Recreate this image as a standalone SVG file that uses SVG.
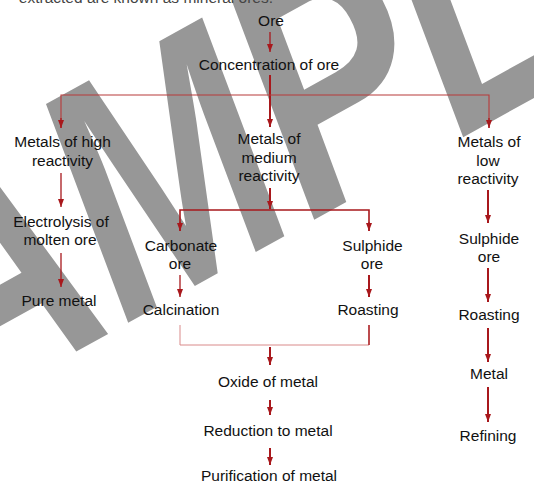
<svg xmlns="http://www.w3.org/2000/svg" width="534" height="483" viewBox="0 0 534 483">
<style>
.t{font-family:"Liberation Sans",Arial,sans-serif;font-size:15.5px;fill:#111;text-anchor:middle}
.wm{font-family:"Liberation Sans",Arial,sans-serif;font-weight:bold;font-style:italic;fill:#979797}
.a{fill:none;stroke:#a8181c;stroke-width:1.3}
.ak{fill:none;stroke:#a8181c;stroke-width:2}
.h{fill:none;stroke:#b83a3a;stroke-width:1.1}
.b{fill:none;stroke:#d98a8a;stroke-width:1}
</style>
<defs>
<marker id="ah" viewBox="0 0 8 6" refX="8" refY="3" markerWidth="8" markerHeight="6" markerUnits="userSpaceOnUse" orient="auto"><path d="M0,0 L8,3 L0,6 z" fill="#a8181c"/></marker>
</defs>
<rect width="534" height="483" fill="#fff"/>
<g id="watermark"><text class="wm" x="0" y="0" font-size="336" transform="translate(-186,497) rotate(-29) scale(0.76,1)">SAMPLE</text></g>
<text class="t" x="273" y="3" style="text-anchor:end;fill:#444">extracted are known as mineral ores.</text>
<g id="connectors">
<line class="a" x1="270" y1="32" x2="270" y2="52" marker-end="url(#ah)"/>
<line class="ak" x1="270" y1="75" x2="270" y2="127" marker-end="url(#ah)"/>
<polyline class="h" points="61,128 61,95 489,95 489,128"/>
<line class="a" x1="61" y1="118" x2="61" y2="128" marker-end="url(#ah)"/>
<line class="a" x1="489" y1="118" x2="489" y2="128" marker-end="url(#ah)"/>
<line class="a" x1="61" y1="173" x2="61" y2="207" marker-end="url(#ah)"/>
<line class="a" x1="61" y1="253" x2="61" y2="287" marker-end="url(#ah)"/>
<line class="ak" x1="270" y1="188" x2="270" y2="209" marker-end="url(#ah)"/>
<polyline class="a" points="180,231 180,210 369,210 369,231" style="stroke-width:1.6"/>
<line class="a" x1="180" y1="222" x2="180" y2="231" marker-end="url(#ah)"/>
<line class="a" x1="369" y1="222" x2="369" y2="231" marker-end="url(#ah)"/>
<line class="a" x1="180" y1="275" x2="180" y2="297" marker-end="url(#ah)"/>
<line class="ak" x1="369" y1="275" x2="369" y2="297" marker-end="url(#ah)"/>
<polyline class="b" points="180,325 180,345 369,345 369,325"/>
<line class="a" x1="369" y1="325" x2="369" y2="345" style="stroke-width:1.4"/>
<line class="ak" x1="270" y1="347" x2="270" y2="365" marker-end="url(#ah)"/>
<line class="ak" x1="270" y1="400" x2="270" y2="415" marker-end="url(#ah)"/>
<line class="ak" x1="270" y1="448" x2="270" y2="465" marker-end="url(#ah)"/>
<line class="ak" x1="488" y1="190" x2="488" y2="223" marker-end="url(#ah)"/>
<line class="ak" x1="488" y1="268" x2="488" y2="302" marker-end="url(#ah)"/>
<line class="ak" x1="488" y1="328" x2="488" y2="362" marker-end="url(#ah)"/>
<line class="ak" x1="488" y1="387" x2="488" y2="422" marker-end="url(#ah)"/>
</g>
<g id="n-ore"><text class="t" x="271" y="25.5">Ore</text></g>
<g id="n-conc"><text class="t" x="269" y="70">Concentration of ore</text></g>
<g id="n-high"><text class="t" x="62.5" y="147">Metals of high</text><text class="t" x="62.5" y="165.5">reactivity</text></g>
<g id="n-medium"><text class="t" x="269" y="144">Metals of</text><text class="t" x="269" y="162.5">medium</text><text class="t" x="269" y="181">reactivity</text></g>
<g id="n-low"><text class="t" x="489" y="147">Metals of</text><text class="t" x="488" y="165.7">low</text><text class="t" x="488" y="184.3">reactivity</text></g>
<g id="n-electro"><text class="t" x="61" y="227">Electrolysis of</text><text class="t" x="60" y="245">molten ore</text></g>
<g id="n-pure"><text class="t" x="59" y="305.5">Pure metal</text></g>
<g id="n-carb"><text class="t" x="181" y="250.7">Carbonate</text><text class="t" x="180" y="268.5">ore</text></g>
<g id="n-sulph1"><text class="t" x="372.5" y="250.7">Sulphide</text><text class="t" x="372" y="268.5">ore</text></g>
<g id="n-calc"><text class="t" x="181" y="315.3">Calcination</text></g>
<g id="n-roast1"><text class="t" x="368" y="315.3">Roasting</text></g>
<g id="n-sulph2"><text class="t" x="489" y="243.7">Sulphide</text><text class="t" x="489" y="262">ore</text></g>
<g id="n-roast2"><text class="t" x="489" y="320">Roasting</text></g>
<g id="n-metal"><text class="t" x="489" y="379.3">Metal</text></g>
<g id="n-refine"><text class="t" x="488" y="440.7">Refining</text></g>
<g id="n-oxide"><text class="t" x="268" y="386.7">Oxide of metal</text></g>
<g id="n-reduce"><text class="t" x="268" y="436">Reduction to metal</text></g>
<g id="n-purify"><text class="t" x="269" y="481">Purification of metal</text></g>
</svg>
